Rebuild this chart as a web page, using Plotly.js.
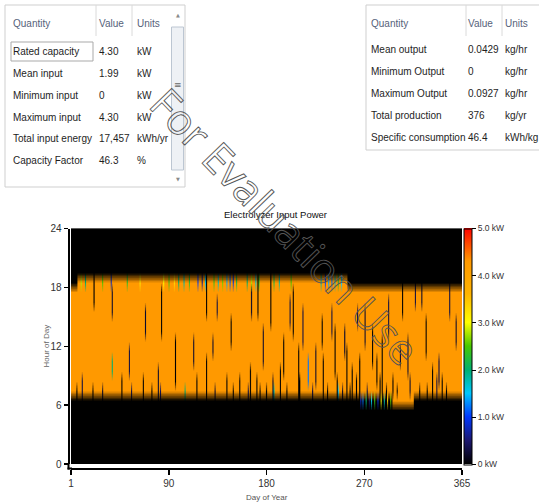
<!DOCTYPE html>
<html><head><meta charset="utf-8">
<script src="https://cdn.plot.ly/plotly-3.0.1.min.js"></script>
<style>html,body{margin:0;padding:0;background:#fff;}#chart{width:539px;height:503px;}</style>
</head><body><div id="chart"></div>
<script>
// ================= DATA =================
// Summary table 1 (electrolyzer input)
const t1Header = ['Quantity', 'Value', 'Units'];
const t1Quantity = ['Rated capacity', 'Mean input', 'Minimum input', 'Maximum input', 'Total input energy', 'Capacity Factor'];
const t1Value = ['4.30', '1.99', '0', '4.30', '17,457', '46.3'];
const t1Units = ['kW', 'kW', 'kW', 'kW', 'kWh/yr', '%'];
// Summary table 2 (hydrogen output)
const t2Header = ['Quantity', 'Value', 'Units'];
const t2Quantity = ['Mean output', 'Minimum Output', 'Maximum Output', 'Total production', 'Specific consumption'];
const t2Value = ['0.0429', '0', '0.0927', '376', '46.4'];
const t2Units = ['kg/hr', 'kg/hr', 'kg/hr', 'kg/yr', 'kWh/kg'];

// Heat map: electrolyzer input power (kW) by day of year and hour of day
const ratedKW = 4.3;
const days = Array.from({length: 365}, (_, i) => i + 1);
const hourEdges = [0,1,2,3,4,5,6,7,8,9,10,11,12,13,14,15,16,17,18,19,20,21,22,23,24];
// operating window (hours running at rated power), read per period of days
const periodFirstDay = [1, 7, 259, 301, 321];
const periodLastDay  = [6, 258, 300, 320, 365];
const periodFirstHour = [7, 7, 7, 6, 7];
const periodLastHour  = [17, 18, 17, 17, 17];
// partial-power cells at the edges of the operating window
const edgeDay  = [10,14,30,38,53,65,87,92,97,101,106,111,119,123,126,134,138,142,146,149,152,155,165,169,173,176,190,195,206,234,238,241,244,247,250,253,
                  271,273,276,279,281,284,287,290,293,296,299, 107,190,226,250];
const edgeHour = [18,18,18,18,18,18,18,18,18,18,18,18,18,18,18,18,18,18,18,18,18,18,18,18,18,18,18,18,18,18,18,18,18,18,18,18,
                  6,6,6,6,6,6,6,6,6,6,6, 7,7,7,7];
const edgeKW   = [2.8,2.0,2.5,0.8,2.3,3.2,3.0,2.4,3.3,2.0,1.8,2.3,1.0,0.6,1.6,2.4,1.7,2.6,1.4,1.1,0.9,2.2,2.0,2.8,1.6,2.4,2.2,1.8,2.5,1.8,1.0,1.4,1.2,1.7,2.2,1.5,
                  0.8,1.2,2.0,0.5,1.6,2.4,0.9,3.0,1.8,3.4,2.6, 2.0,1.8,1.9,1.5];
// low-power streaks inside the window (day, first hour, last hour, kW)
const dipDay  = [22,39,39,85,98,82,127,127,133,137,158,168,169,175,187,205,208,213,222,235,236,244,256,258,263,268,270,282,291,301,308,310,322,328,338,347,354,196,
                 6,11,21,30,48,57,68,76,84,118,135,146,152,166,174,177,183,189,202,214,226,240,249,254,261,267,277,289,295,305,317,326,333,342,351,
                 55,70,115,150,180,199,217,229,247,275,286,297,315,332,344,360];
const dipFrom = [16,15,9,13,8,7,7,15,11,15,7,7,15,15,14,14,13,7,8,12,7,13,11,7,7,14,7,10,7,7,10,15,16,16,7,7,15,7,
                 7,7,7,7,7,7,7,7,7,7,7,7,7,7,7,7,7,7,7,7,7,7,7,7,7,7,7,7,7,7,7,7,7,7,7,
                 9,13,10,12,10,9,12,8,9,12,8,13,9,11,8,12];
const dipTo   = [18,17,10,17,12,9,10,18,12,16,8,9,17,18,18,16,17,11,10,14,10,15,13,11,9,15,10,13,12,8,11,17,17,17,9,8,17,9,
                 7,8,7,7,8,7,8,7,7,8,7,8,7,7,8,7,7,8,7,8,7,7,8,7,7,8,7,8,7,7,8,7,7,8,7,
                 11,15,12,14,13,12,15,11,13,15,10,16,12,14,10,14];
const dipKW   = [0,0.2,2.0,0,0,0.2,0,0,0.2,0.3,0,0,0.2,0,0,0.3,0,0,1.2,0,0,0.3,0.2,0,0,0.3,0,0,0,0,0.2,0,0.3,0.2,0,0,0.3,0,
                 0,0.3,0,0.2,0,0.3,0,0,0.4,0,0.2,0,0,0.3,0,0,0,0.2,0,0,0.3,0,0,0.2,0,0,0.3,0,0,0,0.2,0,0,0.3,0,
                 0.3,0.2,0.2,0,0.2,0,0.3,0.2,0,0.2,0,0.3,0.2,0,0.3,0.2];

const xTickPos = [0.5, 91.75, 183, 274.25, 365.5];
const xTickText = ['1', '90', '180', '270', '365'];
const yTickVals = [0, 6, 12, 18, 24];
const cbTickVals = [0, 1, 2, 3, 4, 5];
const cbTickText = ['0 kW', '1.0 kW', '2.0 kW', '3.0 kW', '4.0 kW', '5.0 kW'];

// ================= BUILD GRID =================
const z = hourEdges.slice(0, 24).map(() => days.map(() => 0));
periodFirstDay.forEach((d0, p) => {
  for (let d = d0; d <= periodLastDay[p]; d++)
    for (let h = periodFirstHour[p]; h <= periodLastHour[p]; h++) z[h][d - 1] = ratedKW;
});
edgeDay.forEach((d, i) => { z[edgeHour[i]][d - 1] = edgeKW[i]; });
dipDay.forEach((d, i) => { for (let h = dipFrom[i]; h <= dipTo[i]; h++) z[h][d - 1] = dipKW[i]; });

// ================= LAYOUT HELPERS =================
const W = 539, H = 503;
const px = x => x / W, py = y => 1 - y / H;
const FN = '"Liberation Sans", Arial, sans-serif';
const FR = '"Liberation Sans", Arial, sans-serif';
const TS = 10;

const ann = [];
function txt(text, x, y, o) {
  ann.push(Object.assign({text: text, x: px(x), y: py(y), xref: 'paper', yref: 'paper', xanchor: 'left', yanchor: 'middle',
    showarrow: false, borderpad: 0, borderwidth: 0, font: {family: FN, size: TS, color: '#1e1e1e'}}, o || {}));
}
const shapes = [];
function rect(x0, y0, x1, y1, line, fill) {
  shapes.push({type: 'rect', xref: 'paper', yref: 'paper', x0: px(x0), x1: px(x1), y0: py(y1), y1: py(y0),
    line: {color: line, width: 1}, fillcolor: fill || 'rgba(0,0,0,0)', layer: 'above'});
}
function seg(x0, y0, x1, y1, color, w) {
  shapes.push({type: 'line', xref: 'paper', yref: 'paper', x0: px(x0), x1: px(x1), y0: py(y0), y1: py(y1),
    line: {color: color, width: w || 1}, layer: 'above'});
}

// ---- table 1 ----
const t1ColX = [13, 99, 137];
rect(5, 5, 185, 187, '#cfcfcf');
seg(96, 5, 96, 36, '#dadada'); seg(132, 5, 132, 36, '#dadada');
t1Header.forEach((h, c) => txt(h, t1ColX[c], 24, {font: {family: FN, size: TS, color: '#56627a'}}));
t1Quantity.forEach((q, r) => {
  const y = 51.7 + r * 21.8;
  txt(q, t1ColX[0], y); txt(t1Value[r], t1ColX[1], y); txt(t1Units[r], t1ColX[2], y);
});
rect(11, 42, 93, 61, '#a9a9a9');
// scroll bar
rect(171.5, 27, 183.5, 170, '#bcc6d2', '#eef1f5');
txt('▲', 177.5, 15, {xanchor: 'center', font: {family: 'DejaVu Sans', size: 5, color: '#8a8a8a'}});
txt('▼', 177.5, 179, {xanchor: 'center', font: {family: 'DejaVu Sans', size: 5, color: '#8a8a8a'}});
txt('≡', 177.5, 85, {xanchor: 'center', font: {family: 'DejaVu Sans', size: 9, color: '#666'}});

// ---- table 2 ----
const t2ColX = [371, 468, 505];
rect(366, 5, 560, 150, '#cfcfcf');
seg(466, 5, 466, 36, '#dadada'); seg(502, 5, 502, 36, '#dadada');
t2Header.forEach((h, c) => txt(h, t2ColX[c], 24, {font: {family: FN, size: TS, color: '#56627a'}}));
t2Quantity.forEach((q, r) => {
  const y = 49.3 + r * 22;
  txt(q, t2ColX[0], y); txt(t2Value[r], t2ColX[1], y); txt(t2Units[r], t2ColX[2], y);
});

// ---- axis titles ----
txt('Day of Year', 266.5, 497, {xanchor: 'center', font: {family: FR, size: 8, color: '#555'}});
txt('Hour of Day', 45.5, 346, {xanchor: 'center', textangle: -90, font: {family: FR, size: 8, color: '#666'}});

// axis corner join
seg(68.5, 463, 68.5, 469.5, '#000', 2);
seg(67.5, 468.5, 72, 468.5, '#000', 2);

// ---- watermark ----
const wmIndex = ann.length;
txt('For Evaluation Use', 285.5, 225, {xanchor: 'center', textangle: 46, font: {family: '"Open Sans", sans-serif', size: 42, color: '#5a5a5a'}});

// ================= TRACE =================
const colorscale = [
  [0.00, '#000000'], [0.10, '#1c1870'], [0.20, '#0038ff'], [0.30, '#00c8ff'], [0.40, '#00b070'],
  [0.50, '#48c800'], [0.60, '#ffff00'], [0.72, '#ffb400'], [0.86, '#ff9900'], [1.00, '#ff0000']
];
const heat = {
  type: 'heatmap', x: days, y: hourEdges, z: z, zmin: 0, zmax: 5, zsmooth: 'fast',
  colorscale: colorscale, hoverinfo: 'skip',
  colorbar: {
    x: px(464), xanchor: 'left', xref: 'paper', y: py(228.5), yanchor: 'top', yref: 'paper',
    len: (464 - 228.5) / H, lenmode: 'fraction', thickness: 8, thicknessmode: 'pixels',
    xpad: 0, ypad: 0, outlinewidth: 1, outlinecolor: '#000', borderwidth: 0,
    tickmode: 'array', tickvals: cbTickVals, ticktext: cbTickText,
    ticks: 'outside', ticklen: 4, tickcolor: '#000', tickwidth: 1,
    tickfont: {family: FR, size: 8.5, color: '#333'}
  }
};

const layout = {
  width: W, height: H, margin: {l: 0, r: 0, t: 0, b: 0, autoexpand: false},
  paper_bgcolor: '#fff', plot_bgcolor: '#000', showlegend: false,
  font: {family: FR, size: 10, color: '#333'},
  title: {text: 'Electrolyzer Input Power', font: {family: FN, size: 9.5, color: '#111'},
    x: px(275.5), xref: 'container', xanchor: 'center', y: py(215), yref: 'container', yanchor: 'middle'},
  xaxis: {domain: [px(71), px(462)], range: [0.5, 365.5], anchor: 'free', position: py(468.5),
    tickmode: 'array', tickvals: xTickPos, ticktext: xTickText, ticks: 'outside', ticklen: 5, tickwidth: 1.5, tickcolor: '#000',
    showline: true, linecolor: '#000', linewidth: 2, showgrid: false, zeroline: false,
    tickfont: {family: FR, size: 10, color: '#333'}},
  yaxis: {domain: [py(464), py(228.5)], range: [0, 24], anchor: 'free', position: px(68.5),
    tickmode: 'array', tickvals: yTickVals, ticks: 'outside', ticklen: 4, tickwidth: 1.5, tickcolor: '#000',
    showline: true, linecolor: '#000', linewidth: 2, showgrid: false, zeroline: false,
    tickfont: {family: FR, size: 10, color: '#333'}},
  annotations: ann, shapes: shapes
};

Plotly.newPlot('chart', [heat], layout, {staticPlot: true, displayModeBar: false}).then(gd => {
  const el = gd.querySelector('.annotation[data-index="' + wmIndex + '"] .annotation-text');
  if (el) { el.style.fill = 'none'; el.style.stroke = '#555'; el.style.strokeWidth = '0.9px'; }
});
</script></body></html>
